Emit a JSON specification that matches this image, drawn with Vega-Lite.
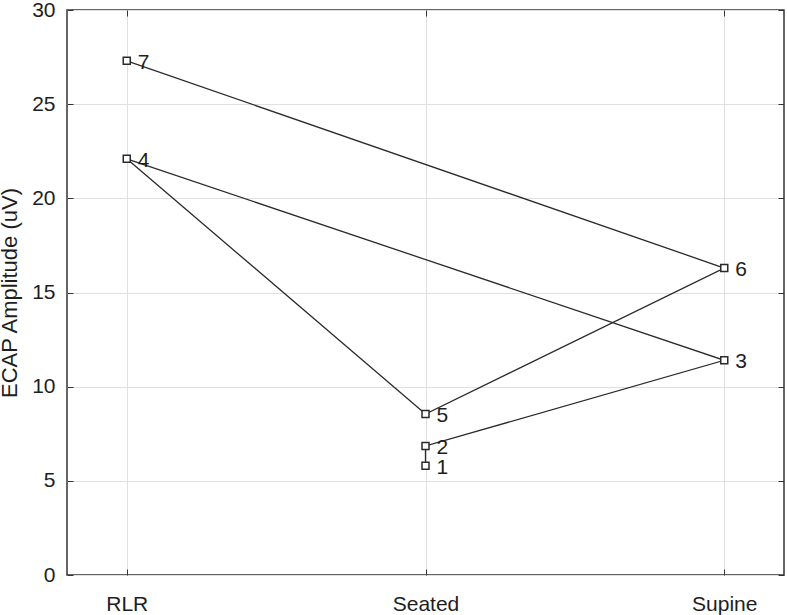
{
  "$schema": "https://vega.github.io/schema/vega-lite/v6.json",
  "width": 717,
  "height": 565,
  "autosize": "none",
  "padding": {"left": 67, "top": 10, "right": 3, "bottom": 40},
  "background": "white",
  "config": {
    "font": "Liberation Sans",
    "view": {"stroke": "#333333", "strokeWidth": 1.5},
    "axis": {
      "domain": false,
      "grid": true,
      "gridColor": "#e0e0e0",
      "gridWidth": 1,
      "tickColor": "#333333",
      "tickSize": -6,
      "tickWidth": 1,
      "labelFont": "Liberation Sans",
      "labelFontSize": 21,
      "labelColor": "#1e1e1e",
      "titleFont": "Liberation Sans",
      "titleFontWeight": "normal",
      "titleColor": "#1e1e1e"
    }
  },
  "data": {
    "values": [
      {"id": 1, "position": "Seated", "amp": 5.8},
      {"id": 2, "position": "Seated", "amp": 6.85},
      {"id": 3, "position": "Supine", "amp": 11.4},
      {"id": 4, "position": "RLR", "amp": 22.1},
      {"id": 5, "position": "Seated", "amp": 8.55},
      {"id": 6, "position": "Supine", "amp": 16.3},
      {"id": 7, "position": "RLR", "amp": 27.3}
    ]
  },
  "resolve": {"axis": {"x": "independent", "y": "independent"}},
  "layer": [
    {
      "mark": {"type": "line", "color": "#2a2a2a", "strokeWidth": 1.3},
      "encoding": {
        "x": {
          "field": "position",
          "type": "nominal",
          "sort": ["RLR", "Seated", "Supine"],
          "scale": {"type": "point", "padding": 0.2, "domain": ["RLR", "Seated", "Supine"]},
          "axis": {"title": null, "labelAngle": 0, "labelPadding": 24}
        },
        "y": {
          "field": "amp",
          "type": "quantitative",
          "scale": {"domain": [0, 30], "nice": false},
          "axis": {
            "title": "ECAP Amplitude (uV)",
            "titleFontSize": 22,
            "titlePadding": 10,
            "values": [0, 5, 10, 15, 20, 25, 30],
            "labelPadding": 18
          }
        },
        "order": {"field": "id", "type": "quantitative"}
      }
    },
    {
      "mark": {"type": "point", "shape": "square", "size": 49, "filled": true, "fill": "white", "stroke": "#2a2a2a", "strokeWidth": 1.5, "opacity": 1},
      "encoding": {
        "x": {
          "field": "position",
          "type": "nominal",
          "sort": ["RLR", "Seated", "Supine"],
          "scale": {"type": "point", "padding": 0.2, "domain": ["RLR", "Seated", "Supine"]},
          "axis": {"orient": "top", "title": null, "labels": false, "grid": false}
        },
        "y": {
          "field": "amp",
          "type": "quantitative",
          "scale": {"domain": [0, 30], "nice": false},
          "axis": {"orient": "right", "title": null, "labels": false, "grid": false, "values": [0, 5, 10, 15, 20, 25, 30]}
        }
      }
    },
    {
      "mark": {"type": "text", "align": "left", "baseline": "middle", "dx": 11, "dy": 2, "fontSize": 21, "color": "#1e1e1e"},
      "encoding": {
        "x": {
          "field": "position",
          "type": "nominal",
          "sort": ["RLR", "Seated", "Supine"],
          "scale": {"type": "point", "padding": 0.2, "domain": ["RLR", "Seated", "Supine"]},
          "axis": null
        },
        "y": {
          "field": "amp",
          "type": "quantitative",
          "scale": {"domain": [0, 30], "nice": false},
          "axis": null
        },
        "text": {"field": "id", "type": "nominal"}
      }
    }
  ]
}
